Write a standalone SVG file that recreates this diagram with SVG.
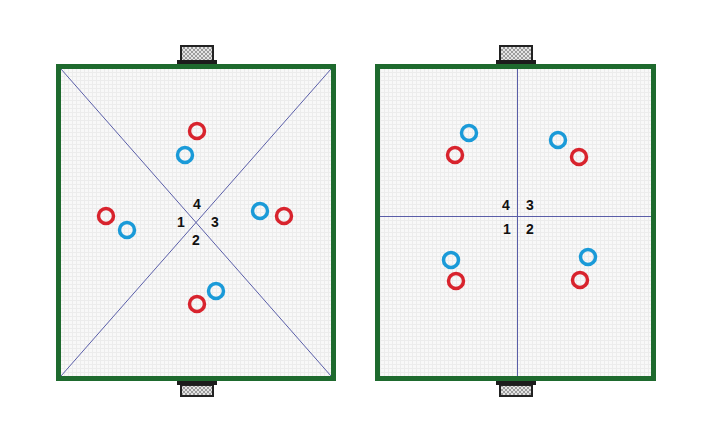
<svg xmlns="http://www.w3.org/2000/svg" width="720" height="443" viewBox="0 0 720 443">
<defs>
<pattern id="grid" width="4" height="4" patternUnits="userSpaceOnUse">
<rect width="4" height="4" fill="#f8f8f8"/>
<path d="M0 0.5H4M0.5 0V4" stroke="#ececec" stroke-width="1"/>
</pattern>
<pattern id="net" width="4" height="4" patternUnits="userSpaceOnUse">
<rect width="4" height="4" fill="#e4e4e4"/>
<path d="M0 0L4 4M4 0L0 4" stroke="#8a8a8a" stroke-width="0.8"/>
</pattern>
<style>
.field{fill:url(#grid);stroke:#1e6a2e;stroke-width:5}
.goal{fill:url(#net);stroke:#222;stroke-width:2}
.base{fill:#1c1c1c}
.line{stroke:#5a5ea8;stroke-width:1;fill:none}
.red{fill:none;stroke:#d8232d;stroke-width:3.5}
.blue{fill:none;stroke:#1a9ad8;stroke-width:3.5}
.num{font-family:"Liberation Sans",Arial,sans-serif;font-weight:bold;font-size:14px;fill:#111;text-anchor:middle}
</style>
</defs>
<rect width="720" height="443" fill="#ffffff"/>
<g id="left-field">
<rect class="field" x="58.5" y="66.5" width="275" height="312"/>
<g id="left-goal-top"><rect class="goal" x="181" y="46" width="32" height="15"/><rect class="base" x="177" y="60" width="40" height="4"/></g>
<g id="left-goal-bottom"><rect class="goal" x="181" y="385" width="32" height="11"/><rect class="base" x="177" y="381" width="40" height="4"/></g>
</g>
<g id="right-field">
<rect class="field" x="377.5" y="66.5" width="276" height="312"/>
<g id="right-goal-top"><rect class="goal" x="500" y="46" width="32" height="15"/><rect class="base" x="496" y="60" width="40" height="4"/></g>
<g id="right-goal-bottom"><rect class="goal" x="500" y="385" width="32" height="11"/><rect class="base" x="496" y="381" width="40" height="4"/></g>
</g>
<g id="connectors">
<line class="line" x1="61" y1="69" x2="331" y2="376"/>
<line class="line" x1="331" y1="69" x2="61" y2="376"/>
<line class="line" x1="517.5" y1="69" x2="517.5" y2="376"/>
<line class="line" x1="380" y1="216.5" x2="651" y2="216.5"/>
</g>
<g id="labels-left">
<text class="num" x="197" y="209">4</text>
<text class="num" x="181" y="227">1</text>
<text class="num" x="215" y="227">3</text>
<text class="num" x="196" y="245">2</text>
</g>
<g id="labels-right">
<text class="num" x="506" y="210">4</text>
<text class="num" x="530" y="210">3</text>
<text class="num" x="507" y="234">1</text>
<text class="num" x="530" y="234">2</text>
</g>
<g id="players-left">
<circle class="red" cx="197" cy="131" r="7.5"/>
<circle class="blue" cx="185" cy="155" r="7.5"/>
<circle class="red" cx="106" cy="216" r="7.5"/>
<circle class="blue" cx="127" cy="230" r="7.5"/>
<circle class="blue" cx="260" cy="211" r="7.5"/>
<circle class="red" cx="284" cy="216" r="7.5"/>
<circle class="blue" cx="216" cy="291" r="7.5"/>
<circle class="red" cx="197" cy="304" r="7.5"/>
</g>
<g id="players-right">
<circle class="blue" cx="469" cy="133" r="7.5"/>
<circle class="red" cx="455" cy="155" r="7.5"/>
<circle class="blue" cx="558" cy="140" r="7.5"/>
<circle class="red" cx="579" cy="157" r="7.5"/>
<circle class="blue" cx="451" cy="260" r="7.5"/>
<circle class="red" cx="456" cy="281" r="7.5"/>
<circle class="blue" cx="588" cy="257" r="7.5"/>
<circle class="red" cx="580" cy="280" r="7.5"/>
</g>
</svg>
